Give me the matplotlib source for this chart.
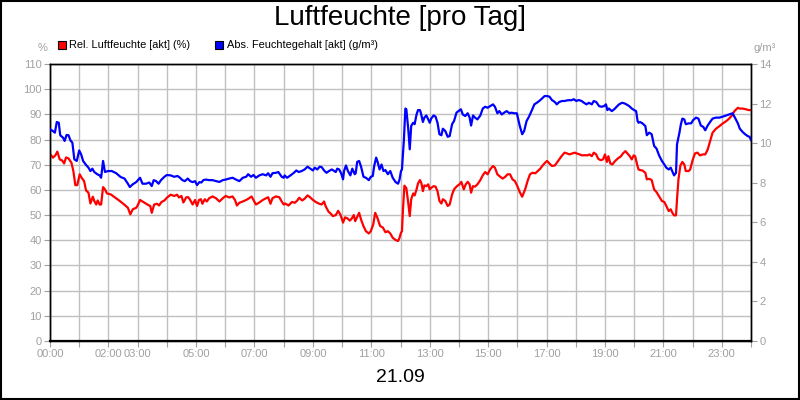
import matplotlib
matplotlib.use("Agg")
import matplotlib.pyplot as plt
from matplotlib.patches import Rectangle
import numpy as np

plt.rcParams['font.family'] = ['Liberation Sans', 'DejaVu Sans']

# ---- data: time in minutes of day 21.09 ----
red_min = [1,6,11,15,20,25,29,33,38,44,48,52,56,61,65,70,74,79,83,88,91,95,98,102,105,109,113,117,125,132,142,153,160,165,170,177,180,185,194,200,206,209,214,220,224,229,235,240,
248,255,261,265,270,274,280,284,288,293,298,302,306,310,313,318,322,327,334,341,348,355,361,368,375,380,384,389,396,403,409,414,418,423,430,437,444,448,453,457,464,471,476,480,
483,490,497,503,508,512,518,523,529,533,539,546,552,558,563,566,572,577,581,587,592,597,602,606,611,616,620,624,627,632,635,639,644,649,655,659,664,668,673,678,684,689,694,699,704,710,715,718,721,
723,725,728,732,736,739,742,746,749,753,756,760,763,766,769,773,777,780,783,788,792,796,800,804,807,812,817,821,826,830,836,841,845,850,854,858,862,865,869,873,878,884,889,894,899,904,910,914,919,925,930,935,940,945,950,955,960,
965,970,976,981,986,991,997,1002,1007,1012,1017,1021,1026,1031,1037,1041,1046,1052,1057,1062,1067,1073,1078,1083,1088,1093,1099,1104,1108,1113,1117,1122,1126,1131,1136,1140,1144,1147,1151,1155,1161,1166,1173,1177,1182,1186,1191,1195,1199,1202,1206,1209,
1212,1217,1223,1226,1231,1236,1241,1246,1251,1257,1262,1266,1271,1275,1279,1282,1286,1288,1291,1295,1299,1303,1306,1312,1315,1320,1325,1330,1335,1341,1346,1351,1356,1361,1368,1375,1382,1389,1395,1401,1406,1413,1417,1423,1430,1435,1440]
red_val = [74.1,72.8,73.7,75.2,72.1,71.7,70.5,72.9,72.5,70.8,67.5,61.9,61.9,66.2,64.8,63.5,59.8,58.9,54.6,57.3,55.6,54.2,55.8,54.2,54.2,61.1,60.2,58.6,58.2,57.2,55.8,54.1,52.9,50.3,52.3,52.9,53.8,56.0,54.9,54.2,53.6,50.9,54.2,54.5,53.8,55.2,55.8,56.9,
58.1,57.6,58.1,57.0,57.6,55.0,57.1,57.1,56.0,54.2,56.0,53.6,56.0,56.3,54.5,56.3,55.4,56.7,57.4,56.7,55.4,56.7,57.6,57.0,57.4,56.0,53.8,54.9,55.4,56.0,56.7,57.4,56.0,54.2,55.0,56.0,56.7,57.1,54.5,56.7,57.4,57.1,55.4,54.2,
54.6,53.8,55.2,54.9,55.8,56.9,55.8,56.5,57.8,57.3,56.2,55.2,54.6,54.2,55.4,53.6,51.4,50.5,49.6,50.0,51.7,50.0,47.0,49.1,48.7,47.8,48.7,50.0,47.6,49.6,50.9,48.2,45.6,43.6,42.7,43.6,46.3,50.9,48.7,45.7,45.0,43.2,43.6,42.7,41.0,40.1,39.7,41.0,43.0,
43.6,52.0,61.7,60.7,54.7,49.6,56.3,58.6,57.8,60.2,62.6,63.9,62.6,59.5,61.8,61.5,62.2,60.2,60.8,61.5,61.3,59.5,55.6,54.6,56.3,55.6,53.6,54.2,58.2,60.2,61.5,62.2,63.2,60.2,62.2,63.2,62.2,58.9,61.5,61.3,62.2,63.9,65.8,67.1,66.2,68.1,69.5,68.8,66.2,65.2,64.5,65.2,66.2,66.2,64.2,63.5,61.5,
59.1,57.3,60.2,63.5,66.2,66.8,66.6,67.5,68.4,69.7,70.8,71.5,70.5,69.5,69.7,70.8,72.1,73.7,74.8,74.5,74.1,74.5,74.8,74.4,74.1,73.7,73.8,73.7,74.1,73.4,74.8,74.1,72.4,71.8,72.1,74.1,71.1,73.4,70.5,70.1,71.5,72.4,73.4,74.5,75.4,74.5,73.4,72.1,73.7,73.4,70.1,68.1,
67.9,67.7,66.8,64.2,64.4,63.9,60.2,59.1,57.5,55.6,55.2,53.6,51.6,52.3,50.7,49.9,49.9,56.2,64.2,69.7,71.1,70.1,67.5,67.5,68.1,71.8,74.5,74.8,73.7,74.1,74.1,76.0,79.3,82.7,84.3,85.3,86.4,87.3,88.3,89.6,91.3,92.6,92.3,92.3,92.0,91.7,91.7]

blue_min = [1,6,10,14,18,21,27,30,34,38,42,46,50,55,60,64,68,74,79,83,87,91,97,102,105,109,113,119,127,136,145,153,160,164,170,177,185,190,197,204,209,213,218,223,228,235,240,
248,255,262,267,272,277,283,288,293,298,302,307,311,315,320,327,334,341,348,355,361,368,375,382,389,396,403,407,413,418,423,430,437,444,448,453,457,464,469,476,480,
482,487,494,501,506,511,517,523,529,535,540,544,549,554,558,563,568,573,579,584,587,590,594,598,602,604,608,612,617,621,626,628,631,635,639,644,649,655,659,663,666,670,673,677,681,685,689,694,699,704,710,715,718,721,
723,727,730,732,736,739,742,746,749,753,756,760,762,766,769,773,777,780,783,788,792,796,800,804,807,812,817,821,826,830,835,839,844,848,853,858,862,865,869,873,878,884,889,894,899,904,910,914,919,923,928,933,938,944,948,953,959,
965,970,974,979,984,990,995,1000,1005,1010,1016,1021,1026,1031,1037,1041,1046,1052,1057,1064,1071,1076,1081,1086,1092,1097,1102,1107,1113,1117,1122,1128,1133,1138,1142,1145,1148,1154,1159,1164,1169,1175,1180,1184,1190,1195,1200,1204,1207,1209,
1212,1217,1223,1226,1231,1236,1241,1246,1251,1257,1262,1266,1271,1275,1279,1282,1286,1288,1293,1296,1299,1303,1306,1312,1317,1321,1327,1332,1337,1342,1346,1351,1356,1361,1368,1375,1382,1389,1395,1402,1407,1413,1417,1423,1428,1433,1437,1440]
blue_val = [10.69,10.61,10.53,11.07,11.03,10.40,10.27,10.11,10.41,10.40,10.14,10.02,9.18,9.10,9.63,9.43,9.10,8.90,8.76,8.59,8.71,8.54,8.43,8.37,8.25,9.10,8.54,8.59,8.59,8.48,8.29,8.21,7.95,7.78,7.92,8.03,8.25,7.95,7.95,8.01,7.83,8.13,8.08,7.95,8.13,8.30,8.39,
8.37,8.30,8.34,8.25,8.13,8.08,8.21,8.08,8.03,8.08,7.88,8.03,8.01,8.13,8.16,8.13,8.13,8.08,8.04,8.13,8.16,8.21,8.25,8.16,8.08,8.25,8.30,8.43,8.30,8.39,8.25,8.37,8.43,8.37,8.48,8.30,8.48,8.50,8.54,8.30,8.25,
8.37,8.25,8.37,8.50,8.62,8.54,8.59,8.67,8.81,8.71,8.62,8.76,8.67,8.81,8.79,8.62,8.50,8.59,8.67,8.59,8.54,8.71,8.67,8.48,8.17,8.59,8.87,8.59,8.37,8.71,8.43,8.48,9.05,9.10,8.81,8.30,8.25,8.13,8.30,8.34,8.85,9.27,9.05,8.67,8.92,8.59,8.64,8.43,8.59,8.25,8.03,7.95,8.16,8.59,
8.67,10.18,11.75,11.71,10.69,9.69,10.87,11.03,10.96,11.45,11.67,11.67,11.51,11.07,11.29,11.40,11.20,11.03,11.24,11.40,11.34,11.03,10.45,10.40,10.73,10.61,10.32,10.36,10.96,11.12,11.54,11.62,11.71,11.45,11.37,11.51,11.29,10.89,11.40,11.29,11.20,11.40,11.75,11.84,11.79,11.87,11.96,11.84,11.51,11.62,11.45,11.54,11.62,11.51,11.54,11.51,11.51,
10.87,10.45,10.61,11.12,11.34,11.67,11.96,12.04,12.13,12.24,12.38,12.38,12.35,12.18,12.08,11.96,12.08,12.13,12.13,12.17,12.17,12.22,12.13,12.18,12.13,12.04,11.96,12.04,11.96,12.13,12.08,11.87,11.84,11.87,11.96,11.67,11.75,11.62,11.71,11.84,11.96,12.04,12.01,11.96,11.87,11.75,11.67,11.62,11.12,11.03,
11.07,11.00,10.86,10.40,10.53,10.45,9.86,9.72,9.39,9.10,8.92,8.76,8.67,8.76,8.54,8.37,8.50,9.94,10.53,10.96,11.24,11.20,10.96,11.00,11.00,11.16,11.29,11.24,10.89,10.82,10.65,10.89,11.07,11.24,11.29,11.29,11.34,11.40,11.45,11.51,11.29,11.00,10.73,10.56,10.45,10.36,10.32,10.16]

hour_labels = {0: "00:00", 2: "02:00", 3: "03:00", 5: "05:00", 7: "07:00", 9: "09:00",
               11: "11:00", 13: "13:00", 15: "15:00", 17: "17:00", 19: "19:00",
               21: "21:00", 23: "23:00"}
left_ticks = list(range(0, 111, 10))
right_ticks = list(range(0, 15, 2))

title = "Luftfeuchte [pro Tag]"
date_label = "21.09"
legend_red = "Rel. Luftfeuchte [akt] (%)"
legend_blue = "Abs. Feuchtegehalt [akt] (g/m³)"

GRAY = "#a0a0a0"
GRID = "#c0c0c0"

fig = plt.figure(figsize=(8, 4), dpi=100)
fig.patch.set_facecolor("white")
ax = fig.add_axes([50/800, 1 - 341/400, 701/800, 277/400])
ax2 = ax.twinx()

rh = np.array(red_min) / 60.0
bh = np.array(blue_min) / 60.0
ax.plot(rh, red_val, color="#ff0000", lw=1.6, solid_joinstyle="round", zorder=3)
ax2.plot(bh, blue_val, color="#0000ff", lw=1.6, solid_joinstyle="round", zorder=3)

ax.set_xlim(0, 24)
ax.set_ylim(0, 110)
ax2.set_ylim(0, 14)

hours = list(range(0, 25))
ax.set_xticks(hours)
ax.set_xticklabels([hour_labels.get(h, "") for h in hours])
ax.set_yticks(left_ticks)
ax2.set_yticks(right_ticks)

ax.grid(True, color=GRID, lw=1.0)
ax.set_axisbelow(True)

for a in (ax, ax2):
    a.tick_params(axis="both", colors=GRAY, labelcolor=GRAY, labelsize=8,
                  length=4, width=0.8, pad=2)
    for s in a.spines.values():
        s.set_color("black")
        s.set_linewidth(1.0)
ax.spines["bottom"].set_linewidth(1.6)

fig.text(0.5, 1 - 18/400, title, ha="center", va="center", fontsize=20, color="black")
fig.text(0.5, 1 - 378/400, date_label, ha="center", va="center", fontsize=14, color="black")

# legend
fig.patches.append(Rectangle((58/800, 1 - 49/400), 8/800, 8/400, transform=fig.transFigure,
                             facecolor="#ff0000", edgecolor="black", lw=0.8))
fig.text(69/800, 1 - 45/400, legend_red, ha="left", va="center", fontsize=7.9, color="black")
fig.patches.append(Rectangle((215/800, 1 - 49/400), 8/800, 8/400, transform=fig.transFigure,
                             facecolor="#0000ff", edgecolor="black", lw=0.8))
fig.text(227/800, 1 - 45/400, legend_blue, ha="left", va="center", fontsize=7.9, color="black")

fig.text(43/800, 1 - 48/400, "%", ha="center", va="center", fontsize=8, color=GRAY)
fig.text(765/800, 1 - 48/400, "g/m³", ha="center", va="center", fontsize=8, color=GRAY)

# outer frame
fig.patches.append(Rectangle((0.001, 0.002), 0.998, 0.996, transform=fig.transFigure,
                             facecolor="none", edgecolor="black", lw=1.5))

fig.savefig("out.png", dpi=100)
